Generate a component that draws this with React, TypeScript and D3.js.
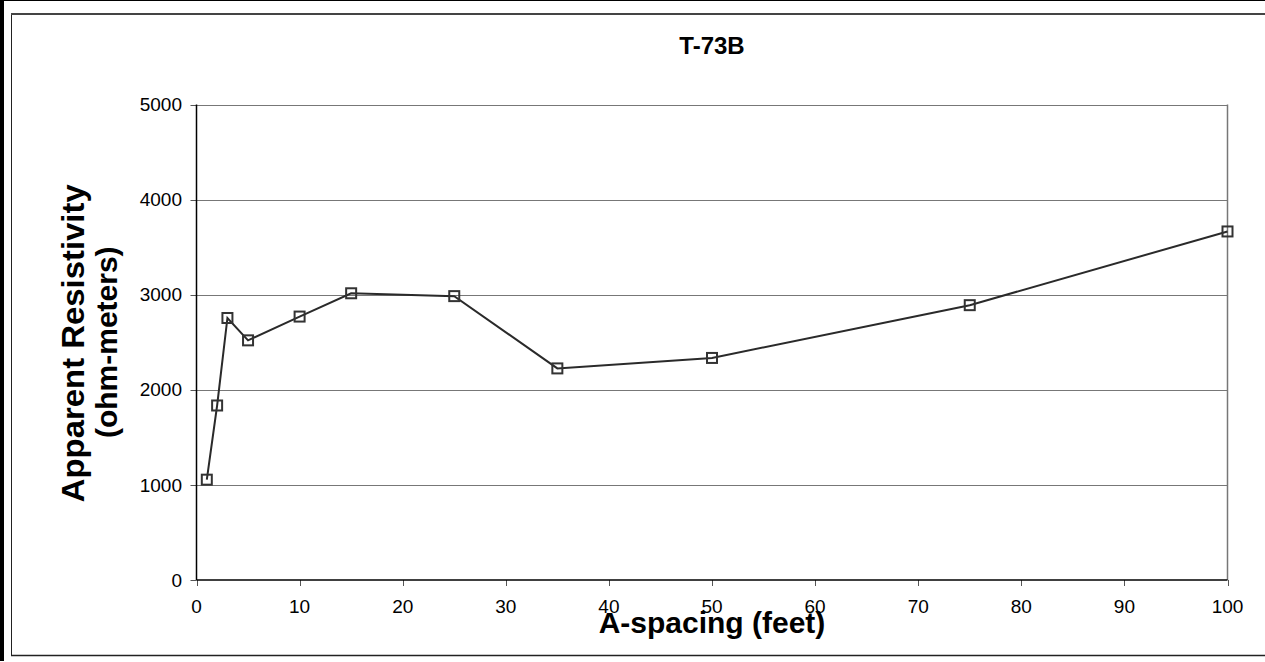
import React from "react";
import * as d3 from "d3";

const spacing = [1, 2, 3, 5, 10, 15, 25, 35, 50, 75, 100];
const resistivity = [1055, 1835, 2755, 2520, 2770, 3015, 2985, 2225, 2335, 2890, 3665];
const xTicks = [0, 10, 20, 30, 40, 50, 60, 70, 80, 90, 100];
const yTicks = [0, 1000, 2000, 3000, 4000, 5000];
const title = "T-73B";
const xTitle = "A-spacing (feet)";
const yTitle1 = "Apparent Resistivity";
const yTitle2 = "(ohm-meters)";

const W = 1265;
const H = 662;
const L = 196.5, R = 1227.5, T = 104.5, B = 580;
const FONT = "'Liberation Sans', Arial, sans-serif";

export default function App() {
  const x = d3.scaleLinear().domain([0, 100]).range([L, R]);
  const y = d3.scaleLinear().domain([0, 5000]).range([B, T]);
  const pts: [number, number][] = spacing.map((s, i) => [x(s), y(resistivity[i])]);
  const line = d3.line()(pts) || "";
  return (
    <div style={{ position: "fixed", left: 0, top: 0 }}>
      <svg width={W} height={H} style={{ display: "block", background: "#fff" }}>
        <rect x={0} y={0} width={W} height={H} fill="#fff" />
        <line x1={2} x2={2} y1={0} y2={661} stroke="#000" strokeWidth={4} />
        <line x1={0} x2={W} y1={0.5} y2={0.5} stroke="#000" strokeWidth={1} />
        <line x1={11.5} x2={11.5} y1={13} y2={656} stroke="#222" strokeWidth={1} />
        <line x1={11} x2={W} y1={14} y2={14} stroke="#444" strokeWidth={2} />
        <line x1={11} x2={W} y1={655.5} y2={655.5} stroke="#222" strokeWidth={1.5} />
        {yTicks.filter((t) => t > 0).map((t) => (
          <line key={t} x1={L} x2={R} y1={Math.round(y(t)) + 0.5} y2={Math.round(y(t)) + 0.5} stroke="#777" strokeWidth={1} />
        ))}
        <line x1={R} x2={R} y1={T} y2={B} stroke="#777" strokeWidth={1.5} />
        {yTicks.map((t) => (
          <g key={"yt" + t}>
            <line x1={L - 6} x2={L} y1={Math.round(y(t)) + 0.5} y2={Math.round(y(t)) + 0.5} stroke="#555" strokeWidth={1} />
            <text x={182} y={y(t)} dy="0.35em" textAnchor="end" fontFamily={FONT} fontSize={19} fill="#000">
              {t}
            </text>
          </g>
        ))}
        {xTicks.map((t) => (
          <g key={"xt" + t}>
            <line x1={Math.round(x(t)) + 0.5} x2={Math.round(x(t)) + 0.5} y1={B} y2={B + 6} stroke="#555" strokeWidth={1} />
            <text x={x(t)} y={613} textAnchor="middle" fontFamily={FONT} fontSize={19} fill="#000">
              {t}
            </text>
          </g>
        ))}
        <line x1={L} x2={L} y1={T} y2={B} stroke="#000" strokeWidth={1.5} />
        <line x1={L} x2={R} y1={B} y2={B} stroke="#000" strokeWidth={1.5} />
        <path d={line} fill="none" stroke="#2a2a2a" strokeWidth={2} />
        {pts.map(([px, py], i) => (
          <rect key={i} x={px - 5} y={py - 5} width={10} height={10} fill="none" stroke="#333" strokeWidth={2} />
        ))}
        <text x={(L + R) / 2} y={54} textAnchor="middle" fontFamily={FONT} fontWeight="bold" fontSize={24} fill="#000">
          {title}
        </text>
        <text x={(L + R) / 2} y={633} textAnchor="middle" fontFamily={FONT} fontWeight="bold" fontSize={30} fill="#000">
          {xTitle}
        </text>
        <text transform={`translate(84,${(T + B) / 2 + 1}) rotate(-90)`} textAnchor="middle" fontFamily={FONT} fontWeight="bold" fontSize={31} textLength={318} lengthAdjust="spacingAndGlyphs" fill="#000">
          {yTitle1}
        </text>
        <text transform={`translate(117,${(T + B) / 2}) rotate(-90)`} textAnchor="middle" fontFamily={FONT} fontWeight="bold" fontSize={30} fill="#000">
          {yTitle2}
        </text>
      </svg>
    </div>
  );
}
